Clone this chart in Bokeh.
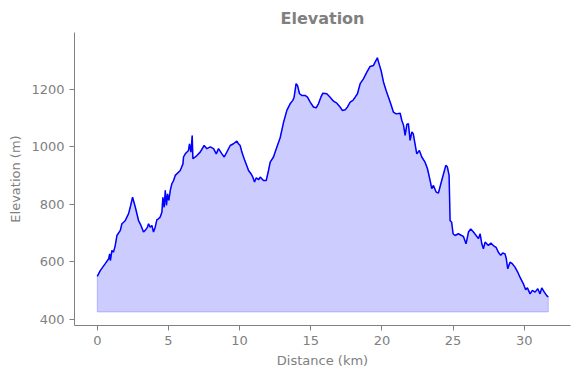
from bokeh.plotting import figure
from bokeh.models import Range1d, FixedTicker
from bokeh.embed import file_html
from bokeh.resources import INLINE

distance_km = [0.0, 0.21, 0.56, 0.8, 0.87, 0.92, 1.03, 1.14, 1.26, 1.38, 1.62, 1.73, 1.85, 1.97, 2.08, 2.2, 2.32, 2.48,
               2.67, 2.9, 3.07, 3.25, 3.37, 3.53, 3.6, 3.72, 3.84, 3.95, 4.07, 4.19, 4.3, 4.42, 4.54, 4.61, 4.7,
               4.78, 4.86, 4.94, 5.03, 5.13, 5.24, 5.36, 5.48, 5.83, 6.02, 6.06, 6.18, 6.3, 6.41, 6.48, 6.58, 6.67,
               6.72, 7.0, 7.23, 7.51, 7.7, 7.94, 8.17, 8.36, 8.52, 8.76, 8.92, 9.1, 9.34, 9.57, 9.81, 9.92, 10.04,
               10.16, 10.32, 10.46, 10.63, 10.8, 10.93, 11.05, 11.17, 11.33, 11.45, 11.68, 11.87, 12.03, 12.15,
               12.38, 12.62, 12.85, 13.08, 13.32, 13.55, 13.74, 13.83, 13.97, 14.07, 14.21, 14.37, 14.6, 14.77,
               14.96, 15.19, 15.38, 15.54, 15.71, 15.85, 16.13, 16.36, 16.6, 16.83, 17.06, 17.22, 17.42, 17.58,
               17.77, 17.96, 18.12, 18.28, 18.47, 18.7, 18.94, 19.17, 19.4, 19.52, 19.68, 19.8, 19.94, 20.11,
               20.29, 20.46, 20.62, 20.81, 21.0, 21.28, 21.4, 21.52, 21.63, 21.75, 21.86, 21.98, 22.1, 22.2,
               22.45, 22.63, 22.8, 23.03, 23.2, 23.39, 23.5, 23.62, 23.81, 23.97, 24.14, 24.33, 24.49, 24.6,
               24.72, 24.79, 24.9, 25.0, 25.14, 25.37, 25.6, 25.72, 25.91, 26.08, 26.24, 26.43, 26.62, 26.78,
               26.9, 27.02, 27.13, 27.25, 27.48, 27.65, 27.83, 28.02, 28.18, 28.35, 28.49, 28.65, 28.74, 28.84,
               29.0, 29.16, 29.35, 29.54, 29.7, 29.94, 30.1, 30.22, 30.41, 30.57, 30.76, 30.95, 31.11, 31.23,
               31.41, 31.58, 31.69]
elevation_m = [550, 570, 594, 611, 628, 605, 640, 634, 657, 692, 710, 733, 738, 744, 756, 768, 791, 825,
               791, 744, 727, 704, 710, 721, 733, 721, 727, 704, 721, 747, 750, 756, 773, 825, 790,
               849, 797, 837, 814, 849, 872, 883, 901, 918, 941, 965, 976, 982, 988, 1011, 982, 1040,
               959, 970, 982, 1005, 994, 1000, 994, 976, 994, 976, 965, 982, 1005, 1011, 1020, 1011, 1005,
               982, 959, 941, 918, 907, 895, 878, 893, 886, 895, 883, 883, 918, 947,
               965, 1000, 1032, 1084, 1127, 1150, 1162, 1173, 1220, 1214, 1185, 1179, 1179, 1173,
               1156, 1139, 1136, 1150, 1173, 1187, 1185, 1173, 1159, 1152, 1139, 1127, 1129, 1139,
               1156, 1162, 1173, 1185, 1220, 1237, 1260, 1280, 1283, 1295, 1310, 1289, 1266, 1226,
               1197, 1173, 1150, 1121, 1115, 1117, 1092, 1075, 1040, 1078, 1081, 1023, 1052, 1046,
               976, 988, 965, 947, 924, 883, 855, 866, 843, 840, 872, 907, 936, 930,
               901, 744, 738, 698, 692, 698, 692, 689, 663, 704, 715, 704, 692, 681,
               698, 663, 646, 669, 657, 666, 657, 651, 634, 623, 631, 628, 611, 576,
               599, 594, 582, 565, 547, 524, 503, 510, 489, 501, 495, 507, 489, 510,
               495, 483, 478]
base_elevation = 426

x_ticks = [0, 5, 10, 15, 20, 25, 30]
y_ticks = [400, 600, 800, 1000, 1200]

grey = "#808080"

p = figure(width=580, height=378, output_backend="svg", toolbar_location=None,
           x_range=Range1d(-1.6, 33.25), y_range=Range1d(379, 1398),
           min_border_left=74, min_border_right=10, min_border_top=32, min_border_bottom=53)
p.title.text = "Elevation"
p.title.align = "center"
p.title.text_font = "DejaVu Sans"
p.title.text_font_size = "16px"
p.title.text_font_style = "bold"
p.title.text_color = grey

poly_x = distance_km + [distance_km[-1], distance_km[0]]
poly_y = elevation_m + [base_elevation, base_elevation]
p.patch(poly_x, poly_y, fill_color="blue", fill_alpha=0.2, line_color="blue", line_alpha=0.2, line_width=1)
p.line(distance_km, elevation_m, line_color="blue", line_width=1.5)

p.outline_line_color = None
p.xgrid.visible = False
p.ygrid.visible = False
p.background_fill_color = "white"
p.border_fill_color = "white"

p.xaxis.ticker = FixedTicker(ticks=x_ticks)
p.yaxis.ticker = FixedTicker(ticks=y_ticks)
p.xaxis.axis_label = "Distance (km)"
p.yaxis.axis_label = "Elevation (m)"
for ax in (p.xaxis, p.yaxis):
    ax.axis_line_color = grey
    ax.major_tick_line_color = grey
    ax.minor_tick_line_color = None
    ax.major_tick_in = 0
    ax.major_tick_out = 5
    ax.major_label_text_color = grey
    ax.major_label_text_font = "DejaVu Sans"
    ax.major_label_text_font_size = "13px"
    ax.axis_label_text_color = grey
    ax.axis_label_text_font = "DejaVu Sans"
    ax.axis_label_text_font_size = "13px"
    ax.axis_label_text_font_style = "normal"
p.yaxis.major_label_orientation = "horizontal"

open("out.html", "w").write(file_html(p, INLINE))
